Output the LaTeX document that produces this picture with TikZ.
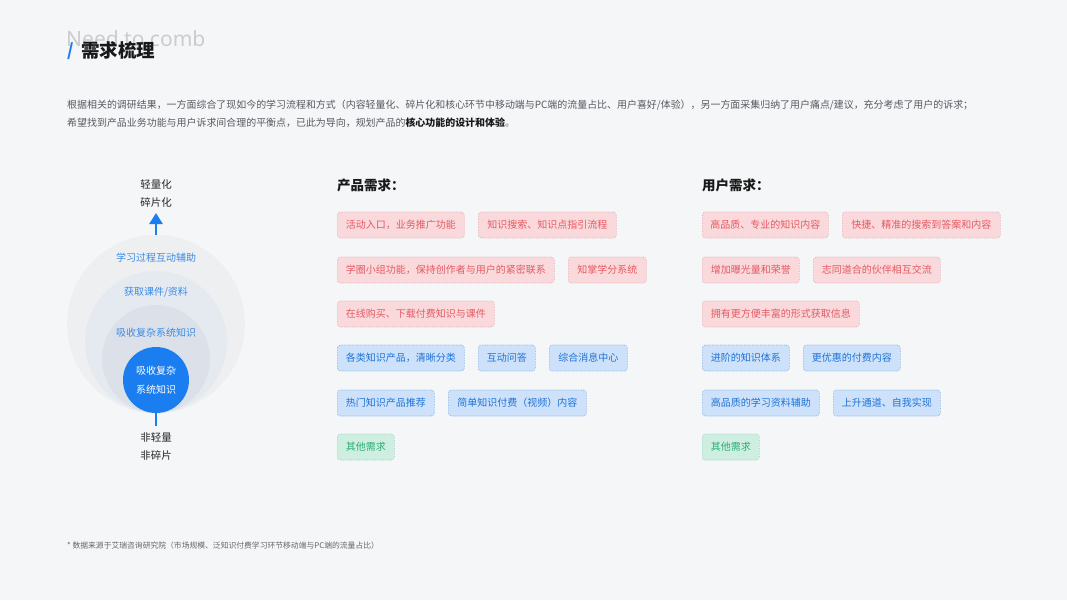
\documentclass[tikz,border=0pt]{standalone}
\usepackage{fontspec}
\setmainfont{Noto Sans CJK SC}
\newfontfamily\latinsans{Noto Sans}
\usetikzlibrary{arrows.meta}
\definecolor{bg}{HTML}{F5F6F8}
\definecolor{mainblue}{HTML}{1A7EF0}
\definecolor{lblue}{HTML}{3A8BE6}
\definecolor{c1}{HTML}{EEEFF1}
\definecolor{c2}{HTML}{E5E9F0}
\definecolor{c3}{HTML}{DCE1E9}
\definecolor{pfill}{HTML}{FAD9DC}
\definecolor{pdraw}{HTML}{E7A2A8}
\definecolor{ptext}{HTML}{E45A62}
\definecolor{bfill}{HTML}{CDE2FA}
\definecolor{bdraw}{HTML}{72A5E2}
\definecolor{btext}{HTML}{1E72D6}
\definecolor{gfill}{HTML}{CFEEE2}
\definecolor{gdraw}{HTML}{86D1B0}
\definecolor{gtext}{HTML}{2AAE72}
\definecolor{bodytext}{HTML}{555A60}
\tikzset{
  tagbase/.style={anchor=west, rounded corners=3pt, densely dotted, line width=0.6pt, minimum height=26pt, inner sep=0pt, font=\fontsize{10}{12}\selectfont},
  ptag/.style={tagbase, fill=pfill, draw=pdraw, text=ptext},
  btag/.style={tagbase, fill=bfill, draw=bdraw, text=btext},
  gtag/.style={tagbase, fill=gfill, draw=gdraw, text=gtext},
  circlabel/.style={text=lblue, font=\fontsize{10}{12}\selectfont},
  axislabel/.style={text=black!85, font=\fontsize{10.5}{12}\selectfont, align=center},
  header/.style={anchor=west, font=\fontsize{13.5}{16}\selectfont\bfseries, text=black!90},
}
\begin{document}
\begin{tikzpicture}[x=1pt,y=-1pt]
\useasboundingbox (0,0) rectangle (1067,600);
\fill[bg] (0,0) rectangle (1067,600);

% title
\node[anchor=west, text=black!20, font=\latinsans\fontsize{21}{23}\selectfont, inner sep=0pt] (eng) at (66,39) {Need to comb};
\node[anchor=west, text=mainblue, font=\fontsize{17}{20}\selectfont\bfseries, inner sep=0pt] (slash) at (67,51) {/};
\node[anchor=west, text=black!90, font=\fontsize{18.5}{20}\selectfont\bfseries, inner sep=0pt] (title) at (81,50) {需求梳理};

% paragraph
\node[anchor=west, text=bodytext, font=\fontsize{9.95}{12}\selectfont, inner sep=0pt] (p1) at (67,105) {根据相关的调研结果，一方面综合了现如今的学习流程和方式（内容轻量化、碎片化和核心环节中移动端与PC端的流量占比、用户喜好/体验），另一方面采集归纳了用户痛点/建议，充分考虑了用户的诉求；};
\node[anchor=west, text=bodytext, font=\fontsize{9.95}{12}\selectfont, inner sep=0pt] (p2) at (67,123) {希望找到产品业务功能与用户诉求间合理的平衡点，已此为导向，规划产品的{\color{black!90}\bfseries 核心功能的设计和体验}。};

% circles
\node[circle, fill=c1, minimum size=178pt, inner sep=0pt] (outer) at (156,324) {};
\node[circle, fill=c2, minimum size=142pt, inner sep=0pt] (mid) at (156,342) {};
\node[circle, fill=c3, minimum size=108pt, inner sep=0pt] (inner) at (156,359) {};
\node[circle, fill=mainblue, minimum size=66pt, inner sep=0pt, text=white, align=center, font=\fontsize{10}{19}\selectfont] (core) at (156,380) {吸收复杂\\系统知识};
\node[circlabel] (l1) at (156,258) {学习过程互动辅助};
\node[circlabel] (l2) at (156,292) {获取课件/资料};
\node[circlabel] (l3) at (156,333) {吸收复杂系统知识};

% axis
\coordinate (arrtop) at (156,213);
\draw[mainblue, line width=2.5pt, -{Triangle[width=13pt,length=11pt]}] (outer.north) -- (arrtop);
\coordinate (botend) at (156,426);
\draw[mainblue, line width=2.5pt] (core.south) -- (botend);
\node[axislabel] (top1) at (156,185) {轻量化};
\node[axislabel] (top2) at (156,203) {碎片化};
\node[axislabel] (bot1) at (156,438) {非轻量};
\node[axislabel] (bot2) at (156,456) {非碎片};

% headers
\node[header, inner sep=0pt] (ph) at (337,185) {产品需求：};
\node[header, inner sep=0pt] (uh) at (702,185) {用户需求：};

% product tags
\node[ptag, minimum width=127pt] (pa1) at (337,225) {活动入口，业务推广功能};
\node[ptag, minimum width=138pt] (pa2) at (478,225) {知识搜索、知识点指引流程};
\node[ptag, minimum width=217pt] (pb1) at (337,270) {学圈小组功能，保持创作者与用户的紧密联系};
\node[ptag, minimum width=78pt] (pb2) at (568,270) {知掌学分系统};
\node[ptag, minimum width=157pt] (pc1) at (337,314) {在线购买、下载付费知识与课件};
\node[btag, minimum width=127pt] (pd1) at (337,358) {各类知识产品，清晰分类};
\node[btag, minimum width=57pt] (pd2) at (478,358) {互动问答};
\node[btag, minimum width=78pt] (pd3) at (549,358) {综合消息中心};
\node[btag, minimum width=97pt] (pe1) at (337,403) {热门知识产品推荐};
\node[btag, minimum width=138pt] (pe2) at (448,403) {简单知识付费（视频）内容};
\node[gtag, minimum width=57pt] (pf1) at (337,447) {其他需求};

% user tags
\node[ptag, minimum width=126pt] (ua1) at (702,225) {高品质、专业的知识内容};
\node[ptag, minimum width=158pt] (ua2) at (842,225) {快捷、精准的搜索到答案和内容};
\node[ptag, minimum width=97pt] (ub1) at (702,270) {增加曝光量和荣誉};
\node[ptag, minimum width=127pt] (ub2) at (813,270) {志同道合的伙伴相互交流};
\node[ptag, minimum width=157pt] (uc1) at (702,314) {拥有更方便丰富的形式获取信息};
\node[btag, minimum width=87pt] (ud1) at (702,358) {进阶的知识体系};
\node[btag, minimum width=97pt] (ud2) at (803,358) {更优惠的付费内容};
\node[btag, minimum width=117pt] (ue1) at (702,403) {高品质的学习资料辅助};
\node[btag, minimum width=107pt] (ue2) at (833,403) {上升通道、自我实现};
\node[gtag, minimum width=57pt] (uf1) at (702,447) {其他需求};

% footnote
\node[anchor=west, text=black!60, font=\fontsize{7.8}{9}\selectfont, inner sep=0pt] (fn) at (67,546) {* 数据来源于艾瑞咨询研究院（市场规模、泛知识付费学习环节移动端与PC端的流量占比）};
\end{tikzpicture}
\end{document}
